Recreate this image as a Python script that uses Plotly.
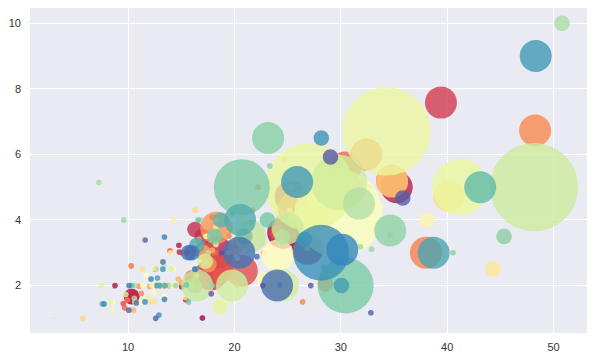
import numpy as np
import plotly.graph_objects as go

total_bill = [16.99, 10.34, 21.01, 23.68, 24.59, 25.29, 8.77, 26.88, 15.04, 14.78,
              10.27, 35.26, 15.42, 18.43, 14.83, 21.58, 10.33, 16.29, 16.97, 20.65,
              17.92, 20.29, 15.77, 39.42, 19.82, 17.81, 13.37, 12.69, 21.70, 19.65,
              9.55, 18.35, 15.06, 20.69, 17.78, 24.06, 16.31, 16.93, 18.69, 31.27,
              16.04, 17.46, 13.94, 9.68, 30.40, 18.29, 22.23, 32.40, 28.55, 18.04,
              12.54, 10.29, 34.81, 9.94, 25.56, 19.49, 38.01, 26.41, 11.24, 48.27,
              20.29, 13.81, 11.02, 18.29, 17.59, 20.08, 16.45, 3.07, 20.23, 15.01,
              12.02, 17.07, 26.86, 25.28, 14.73, 10.51, 17.92, 27.20, 22.76, 17.29,
              19.44, 16.66, 10.07, 32.68, 15.98, 34.83, 13.03, 18.28, 24.71, 21.16,
              28.97, 22.49, 5.75, 16.32, 22.75, 40.17, 27.28, 12.03, 21.01, 12.46,
              11.35, 15.38, 44.30, 22.42, 20.92, 15.36, 20.49, 25.21, 18.24, 14.31,
              14.00, 7.25, 38.07, 23.95, 25.71, 17.31, 29.93, 10.65, 12.43, 24.08,
              11.69, 13.42, 14.26, 15.95, 12.48, 29.80, 8.52, 14.52, 11.38, 22.82,
              19.08, 20.27, 11.17, 12.26, 18.26, 8.51, 10.33, 14.15, 16.00, 13.16,
              17.47, 34.30, 41.19, 27.05, 16.43, 8.35, 18.64, 11.87, 9.78, 7.51,
              14.07, 13.13, 17.26, 24.55, 19.77, 29.85, 48.17, 25.00, 13.39, 16.49,
              21.50, 12.66, 16.21, 13.81, 17.51, 24.52, 20.76, 31.71, 10.59, 10.63,
              50.81, 15.81, 7.25, 31.85, 16.82, 32.90, 17.89, 14.48, 9.60, 34.63,
              34.65, 23.33, 45.35, 23.17, 40.55, 20.69, 20.90, 30.46, 18.15, 23.10,
              15.69, 19.81, 28.44, 15.48, 16.58, 7.56, 10.34, 43.11, 13.00, 13.51,
              18.71, 12.74, 13.00, 16.40, 20.53, 16.47, 26.59, 38.73, 24.27, 12.76,
              30.06, 25.89, 48.33, 13.27, 28.17, 12.90, 28.15, 11.59, 7.74, 30.14,
              12.16, 13.42, 8.58, 15.98, 13.42, 16.27, 10.09, 20.45, 13.28, 22.12,
              24.01, 15.69, 11.61, 10.77, 15.53, 10.07, 12.60, 32.83, 35.83, 29.03,
              27.18, 22.67, 17.82, 18.78]

tip = [1.01, 1.66, 3.50, 3.31, 3.61, 4.71, 2.00, 3.12, 1.96, 3.23,
       1.71, 5.00, 1.57, 3.00, 3.02, 3.92, 1.67, 3.71, 3.50, 3.35,
       4.08, 2.75, 2.23, 7.58, 3.18, 2.34, 2.00, 2.00, 4.30, 3.00,
       1.45, 2.50, 3.00, 2.45, 3.27, 3.60, 2.00, 3.07, 2.31, 5.00,
       2.24, 2.54, 3.06, 1.32, 5.60, 3.00, 5.00, 6.00, 2.05, 3.00,
       2.50, 2.60, 5.20, 1.56, 4.34, 3.51, 3.00, 1.50, 1.76, 6.73,
       3.21, 2.00, 1.98, 3.76, 2.64, 3.15, 2.47, 1.00, 2.01, 2.09,
       1.97, 3.00, 3.14, 5.00, 2.20, 1.25, 3.08, 4.00, 3.00, 2.71,
       3.00, 3.40, 1.83, 5.00, 2.03, 5.17, 2.00, 4.00, 5.85, 3.00,
       3.00, 3.50, 1.00, 4.30, 3.25, 4.73, 4.00, 1.50, 3.00, 1.50,
       2.50, 3.00, 2.50, 3.48, 4.08, 1.64, 4.06, 4.29, 3.76, 4.00,
       3.00, 1.00, 4.00, 2.55, 4.00, 3.50, 5.07, 1.50, 1.80, 2.92,
       2.31, 1.68, 2.50, 2.00, 2.52, 4.20, 1.48, 2.00, 2.00, 2.18,
       1.50, 2.83, 1.50, 2.00, 3.25, 1.25, 2.00, 2.00, 2.00, 2.75,
       3.50, 6.70, 5.00, 5.00, 2.30, 1.50, 1.36, 1.63, 1.73, 2.00,
       2.50, 2.00, 2.74, 2.00, 2.00, 5.14, 5.00, 3.75, 2.61, 2.00,
       3.50, 2.50, 2.00, 2.00, 3.00, 3.48, 2.24, 4.50, 1.61, 2.00,
       10.00, 3.16, 5.15, 3.18, 4.00, 3.11, 2.00, 2.00, 4.00, 3.55,
       3.68, 5.65, 3.50, 6.50, 3.00, 5.00, 3.50, 2.00, 3.50, 4.00,
       1.50, 4.19, 2.56, 2.02, 4.00, 1.44, 2.00, 5.00, 2.00, 2.00,
       4.00, 2.01, 2.00, 2.50, 4.00, 3.23, 3.41, 3.00, 2.03, 2.23,
       2.00, 5.16, 9.00, 2.50, 6.50, 1.10, 3.00, 1.50, 1.44, 3.09,
       2.20, 3.48, 1.92, 3.00, 1.58, 2.50, 2.00, 3.00, 2.72, 2.88,
       2.00, 3.00, 3.39, 1.47, 3.00, 1.25, 1.00, 1.17, 4.67, 5.92,
       2.00, 2.00, 1.75, 3.00]

party_size = [2, 3, 3, 2, 4, 4, 2, 4, 2, 2,
              2, 4, 2, 4, 2, 2, 3, 3, 3, 3,
              2, 2, 2, 4, 2, 4, 2, 2, 2, 2,
              2, 4, 2, 4, 2, 3, 3, 3, 3, 3,
              3, 2, 2, 2, 4, 2, 2, 4, 3, 2,
              2, 2, 4, 2, 4, 2, 4, 2, 2, 4,
              2, 2, 2, 4, 3, 3, 2, 1, 2, 2,
              2, 3, 2, 2, 2, 2, 2, 4, 2, 2,
              2, 2, 1, 2, 2, 4, 2, 2, 2, 2,
              2, 2, 2, 2, 2, 4, 2, 2, 2, 2,
              2, 2, 3, 2, 2, 2, 2, 2, 2, 2,
              2, 1, 3, 2, 3, 2, 4, 2, 2, 4,
              2, 2, 2, 2, 2, 6, 2, 2, 2, 3,
              2, 2, 2, 2, 2, 2, 2, 2, 2, 2,
              2, 6, 5, 6, 2, 2, 3, 2, 2, 2,
              2, 2, 3, 4, 4, 5, 6, 4, 2, 4,
              4, 2, 3, 2, 2, 3, 2, 4, 2, 2,
              3, 2, 2, 2, 2, 2, 2, 2, 2, 2,
              4, 2, 3, 4, 2, 5, 3, 5, 3, 3,
              2, 2, 2, 2, 2, 2, 2, 4, 2, 2,
              3, 2, 2, 2, 4, 3, 3, 4, 2, 2,
              3, 4, 4, 2, 3, 2, 5, 2, 2, 4,
              2, 2, 1, 3, 2, 2, 2, 4, 2, 2,
              4, 3, 2, 2, 2, 2, 2, 2, 3, 3,
              2, 2, 2, 2]

x_ticks = [10, 20, 30, 40, 50]
y_ticks = [2, 4, 6, 8, 10]

row_index = np.arange(len(total_bill))          # colour follows the table's row order
marker_px = np.array(party_size, dtype=float) ** 2.5

fig = go.Figure(go.Scatter(
    x=total_bill, y=tip, mode="markers",
    marker=dict(size=marker_px, sizemode="diameter", color=row_index,
                colorscale="Spectral", opacity=0.8, line=dict(width=0)),
    hoverinfo="x+y",
))

axis_common = dict(showgrid=True, gridcolor="white", gridwidth=1, zeroline=False,
                   showline=False, ticks="", automargin=False,
                   tickfont=dict(family="Liberation Sans, Arial", size=11, color="#333333"))

fig.update_layout(
    width=594, height=360,
    margin=dict(l=30, r=7, t=8, b=27, pad=0),
    paper_bgcolor="white", plot_bgcolor="#EAEAF2",
    showlegend=False,
    xaxis=dict(range=[0.78, 53.15], tickvals=x_ticks, ticklabelstandoff=6, **axis_common),
    yaxis=dict(range=[0.553, 10.465], tickvals=y_ticks, ticklabelstandoff=8, **axis_common),
)

fig.write_html("out.html", config={"displayModeBar": False},
               post_script="document.body.style.margin='0';document.body.style.padding='0';")
